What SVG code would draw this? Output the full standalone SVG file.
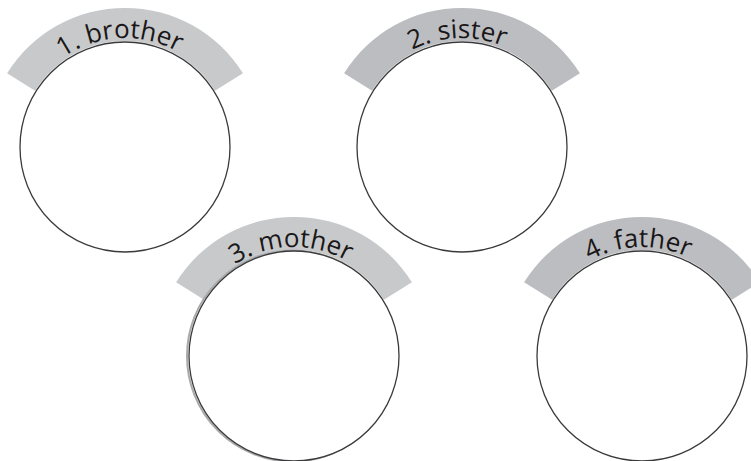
<svg xmlns="http://www.w3.org/2000/svg" xmlns:xlink="http://www.w3.org/1999/xlink" width="751" height="461" viewBox="0 0 751 461">
<style>
.band1{fill:#c8c9cb}
.band2{fill:#bcbdc0}
.ring{fill:#ffffff;stroke:#3a3a3a;stroke-width:1.3}
.lbl{font-family:"Open Sans","Noto Sans","DejaVu Sans",sans-serif;font-size:26px;fill:#1a1718}
</style>
<rect width="751" height="461" fill="#ffffff"/>
<g id="connectors"></g>
<g id="node1">
<path class="band1" d="M 7.1,73.3 A 139 139 0 0 1 242.9,73.3 L 214.9,90.8 A 106 106 0 0 0 35.1,90.8 Z"/>
<circle class="ring" cx="125" cy="147" r="105"/>
<path id="a1" d="M 22.6,109.7 A 109 109 0 0 1 227.4,109.7" fill="none"/>
<text class="lbl"><textPath xlink:href="#a1" href="#a1" startOffset="48%" text-anchor="middle">1. brother</textPath></text>
</g>
<g id="node2">
<path class="band2" d="M 344.1,73.3 A 139 139 0 0 1 579.9,73.3 L 551.9,90.8 A 106 106 0 0 0 372.1,90.8 Z"/>
<circle class="ring" cx="462" cy="147" r="105"/>
<path id="a2" d="M 359.6,109.7 A 109 109 0 0 1 564.4,109.7" fill="none"/>
<text class="lbl"><textPath xlink:href="#a2" href="#a2" startOffset="48.3%" text-anchor="middle">2. sister</textPath></text>
</g>
<g id="node3">
<path class="band1" d="M 176.1,282.3 A 139 139 0 0 1 411.9,282.3 L 383.9,299.8 A 106 106 0 0 0 204.1,299.8 Z"/>
<circle cx="292.5" cy="356" r="105.5" fill="none" stroke="#a9aaad" stroke-width="2"/>
<circle class="ring" cx="294" cy="356" r="105"/>
<path id="a3" d="M 191.6,318.7 A 109 109 0 0 1 396.4,318.7" fill="none"/>
<text class="lbl"><textPath xlink:href="#a3" href="#a3" startOffset="48.8%" text-anchor="middle">3. mother</textPath></text>
</g>
<g id="node4">
<path class="band2" d="M 524.1,282.3 A 139 139 0 0 1 759.9,282.3 L 731.9,299.8 A 106 106 0 0 0 552.1,299.8 Z"/>
<circle class="ring" cx="642" cy="356" r="105"/>
<path id="a4" d="M 539.6,318.7 A 109 109 0 0 1 744.4,318.7" fill="none"/>
<text class="lbl"><textPath xlink:href="#a4" href="#a4" startOffset="48.6%" text-anchor="middle">4. father</textPath></text>
</g>
</svg>
